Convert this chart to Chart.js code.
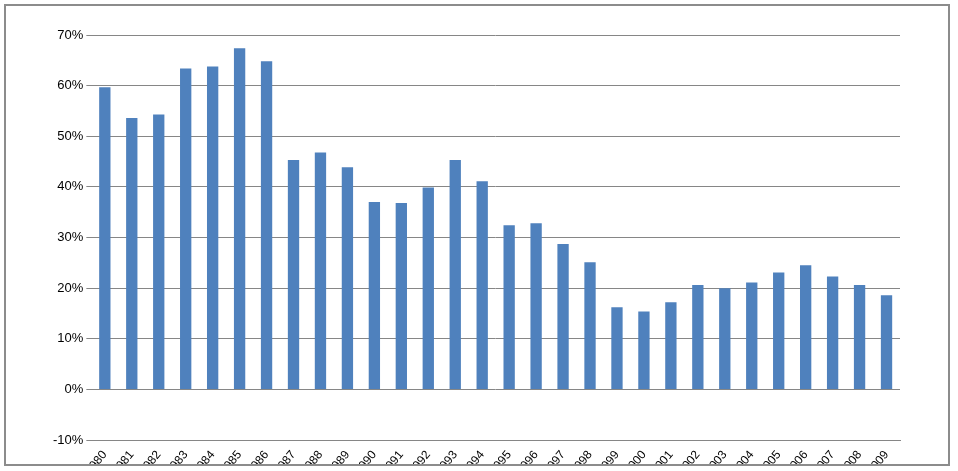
<!DOCTYPE html>
<html><head><meta charset="utf-8">
<script src="https://cdn.jsdelivr.net/npm/chart.js@4"></script>
<style>
html,body{margin:0;padding:0;background:#fff;}
#box{position:absolute;left:4px;top:4px;width:946px;height:462px;border:2px solid #8c8c8c;box-sizing:border-box;}
#wrap{position:absolute;left:0;top:0;width:942px;height:458px;}
</style></head><body>
<div id="box"><div id="wrap"><canvas id="c"></canvas></div></div>
<script>
const years=['1980','1981','1982','1983','1984','1985','1986','1987','1988','1989','1990','1991','1992','1993','1994','1995','1996','1997','1998','1999','2000','2001','2002','2003','2004','2005','2006','2007','2008','2009'];
const values=[59.7,53.6,54.3,63.4,63.8,67.4,64.8,45.3,46.8,43.9,37.0,36.8,39.9,45.3,41.1,32.4,32.8,28.7,25.1,16.2,15.4,17.2,20.6,20.0,21.1,23.1,24.5,22.3,20.6,18.6];
new Chart(document.getElementById('c'),{
type:'bar',
data:{labels:years,datasets:[{data:values,backgroundColor:'#4F81BD',borderColor:'#4575b0',borderWidth:0,barPercentage:0.42,categoryPercentage:1}]},
options:{responsive:true,maintainAspectRatio:false,animation:false,
layout:{padding:{left:44,right:48,top:29,bottom:0}},
plugins:{legend:{display:false},tooltip:{enabled:false}},
scales:{
x:{afterFit:s=>{s.height=24;},grid:{display:false},border:{color:'#868686'},ticks:{padding:0,color:'#000',font:{family:'Liberation Sans',size:12},minRotation:50,maxRotation:50,autoSkip:false}},
y:{min:-10,max:70,ticks:{stepSize:10,color:'#000',font:{family:'Liberation Sans',size:13},callback:v=>v+'%'},grid:{color:'#868686',drawTicks:true,tickLength:5},border:{display:false}}
}}});
</script></body></html>
